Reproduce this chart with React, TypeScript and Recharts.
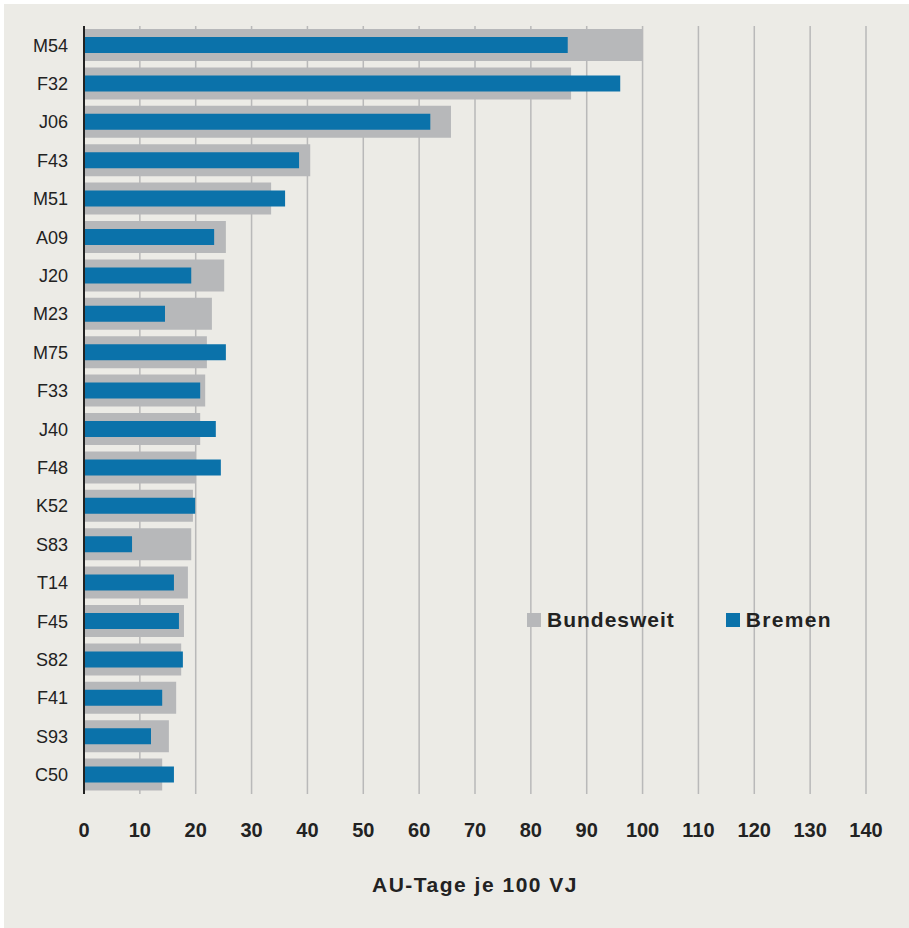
import { Bar, BarChart, CartesianGrid, Legend, XAxis, YAxis } from "recharts"

const codes = ["M54", "F32", "J06", "F43", "M51", "A09", "J20", "M23", "M75", "F33", "J40", "F48", "K52", "S83", "T14", "F45", "S82", "F41", "S93", "C50"]
const bundesweit = [100, 87.2, 65.7, 40.5, 33.5, 25.4, 25.1, 22.9, 22.0, 21.7, 20.8, 20.0, 19.5, 19.2, 18.6, 17.9, 17.4, 16.5, 15.2, 14.0]
const bremen = [86.6, 96.0, 62.0, 38.5, 36.0, 23.3, 19.2, 14.5, 25.4, 20.8, 23.6, 24.5, 19.9, 8.6, 16.1, 17.0, 17.7, 14.0, 12.0, 16.1]
const xTicks = [0, 10, 20, 30, 40, 50, 60, 70, 80, 90, 100, 110, 120, 130, 140]

const GRAY = "#b7b8ba"
const BLUE = "#0b72aa"
const FONT = "'Liberation Sans', Arial, sans-serif"

const data = codes.map((code, i) => ({ code, bundesweit: bundesweit[i], bremen: bremen[i] }))

function LegendBox() {
  const items = [
    { label: "Bundesweit", color: GRAY, spacing: 1, gap: 51 },
    { label: "Bremen", color: BLUE, spacing: 1.3, gap: 0 },
  ]
  return (
    <div style={{ display: "flex", alignItems: "center", fontFamily: FONT }}>
      {items.map((it) => (
        <div key={it.label} style={{ display: "flex", alignItems: "center", marginRight: it.gap }}>
          <span style={{ width: 14, height: 14, background: it.color, display: "inline-block", marginRight: 6 }} />
          <span style={{ fontSize: 21, fontWeight: 700, color: "#222", letterSpacing: it.spacing, lineHeight: "24px" }}>
            {it.label}
          </span>
        </div>
      ))}
    </div>
  )
}

export default function App() {
  return (
    <div style={{ position: "fixed", left: 0, top: 0, width: 909, height: 928, background: "#fff" }}>
      <div style={{ position: "absolute", left: 4, top: 4, right: 0, bottom: 0, background: "#ecebe6" }} />
      <BarChart
        width={909}
        height={928}
        data={data}
        layout="vertical"
        margin={{ top: 26, right: 43, bottom: 0, left: 0 }}
        style={{ fontFamily: FONT }}
      >
        <CartesianGrid horizontal={false} stroke="#b9b9b9" strokeWidth={1.5} />
        <XAxis
          type="number"
          domain={[0, 140]}
          ticks={xTicks}
          interval={0}
          axisLine={false}
          tickLine={false}
          tickSize={0}
          tickMargin={29}
          height={134}
          tick={{ fontSize: 20, fontWeight: 700, fill: "#222" }}
          label={{ value: "AU-Tage je 100 VJ", position: "insideBottom", offset: 36, fontSize: 21, fontWeight: 700, letterSpacing: 1.5, fill: "#222" }}
        />
        <YAxis
          yAxisId="a"
          type="category"
          dataKey="code"
          width={84}
          tickLine={false}
          tickSize={0}
          tickMargin={16}
          axisLine={{ stroke: "#222", strokeWidth: 2 }}
          tick={{ fontSize: 18, fill: "#222" }}
        />
        <YAxis yAxisId="b" type="category" dataKey="code" hide />
        <Bar yAxisId="a" dataKey="bundesweit" name="Bundesweit" fill={GRAY} barSize={32} isAnimationActive={false} />
        <Bar yAxisId="b" dataKey="bremen" name="Bremen" fill={BLUE} barSize={16} isAnimationActive={false} />
        <Legend
          layout="horizontal"
          verticalAlign="middle"
          align="center"
          content={() => <LegendBox />}
          wrapperStyle={{ left: 527, top: 608, width: "auto" }}
        />
      </BarChart>
    </div>
  )
}
